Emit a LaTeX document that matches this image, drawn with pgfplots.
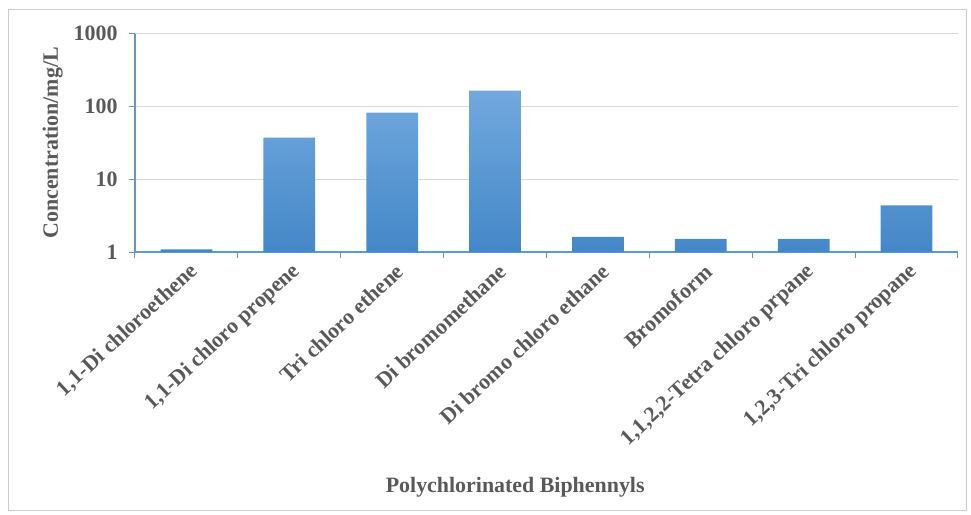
\documentclass[border=0pt]{standalone}
\usepackage{pgfplots}
\pgfplotsset{compat=1.18}
\usepackage{fontspec}
\setmainfont{Liberation Serif}
\definecolor{txt}{HTML}{595959}
\definecolor{axblue}{HTML}{5B9BD5}
\definecolor{gridc}{HTML}{D9D9D9}
\definecolor{bartop}{HTML}{72A9DE}
\definecolor{barbot}{HTML}{4487C8}
\begin{document}
\begin{tikzpicture}
\begin{axis}[
  at={(0,0)}, anchor=south west,
  scale only axis, width=823bp, height=218.3bp,
  ymode=log, ymin=1, ymax=1000, yminorticks=false,
  xmin=-0.5, xmax=7.5,
  ybar, bar width=51.7bp,
  axis x line*=bottom, axis y line*=left,
  axis line style={axblue, line width=1.2bp},
  ytick={1,10,100,1000}, yticklabels={1,10,100,1000},
  ymajorgrids, grid style={gridc, line width=1bp},
  xtick={0,...,7},
  xticklabels={{1,1-Di chloroethene},{1,1-Di chloro propene},{Tri chloro ethene},{Di bromomethane},{Di bromo chloro ethane},{Bromoform},{1,1,2,2-Tetra chloro prpane},{1,2,3-Tri chloro propane}},
  minor xtick={-0.5,0.5,...,7.5},
  tick align=outside, major tick length=6bp, minor tick length=6bp,
  tick style={axblue, line width=1bp},
  major x tick style={draw=none},
  tick label style={font=\fontsize{22}{24}\selectfont\bfseries, text=txt},
  yticklabel style={xshift=-8bp},
  xticklabel style={rotate=43, anchor=east, yshift=-13bp, xshift=2bp},
  label style={font=\fontsize{22}{24}\selectfont\bfseries, text=txt},
  ylabel={Concentration/mg/L},
  xlabel={Polychlorinated Biphennyls},
  ylabel style={at={(axis description cs:-0.1,0.5)}, anchor=center},
  xlabel style={at={(axis description cs:0.462,-1.0765)}, anchor=center},
]
\addplot[draw=none, top color=bartop, bottom color=barbot] coordinates {
  (0,1.09) (1,37.3) (2,82.4) (3,165.6) (4,1.62) (5,1.51) (6,1.51) (7,4.39)
};
\end{axis}
\draw[black!20, line width=1bp] (-126bp,-258bp) rectangle (831bp,242bp);
\pgfresetboundingbox
\useasboundingbox (-135bp,-263bp) rectangle (836bp,252bp);
\end{tikzpicture}
\end{document}
